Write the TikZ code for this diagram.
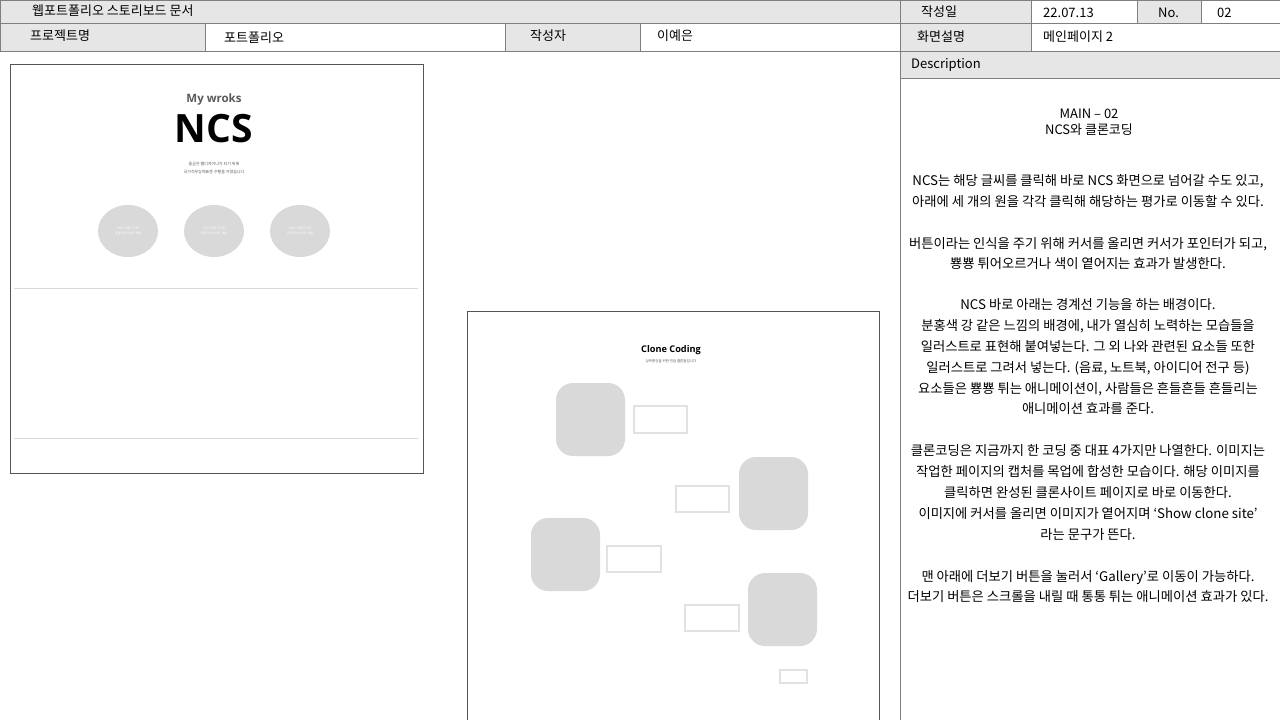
\documentclass[tikz,border=0pt]{standalone}
\usepackage{fontspec}
\setmainfont{Noto Sans CJK KR}
\newfontfamily\opensans{Open Sans}
\usetikzlibrary{shapes.geometric}

\definecolor{headgray}{HTML}{E6E6E6}
\definecolor{linegray}{HTML}{7F7F7F}
\definecolor{framegray}{HTML}{555555}
\definecolor{blobgray}{HTML}{D9D9D9}
\definecolor{boxgray}{HTML}{E2E2E2}
\definecolor{subgray}{HTML}{5A5A5A}

\begin{document}
\begin{tikzpicture}[x=1pt,y=-1pt,
	headcell/.style={draw=linegray, fill=headgray, line width=0.8pt},
	whitecell/.style={draw=linegray, fill=white, line width=0.8pt},
	headtext/.style={anchor=west, inner sep=0pt, font=\fontsize{13}{15}\selectfont},
	desctext/.style={align=center, inner sep=0pt, font=\fontsize{13.3}{20.8}\selectfont},
	frame/.style={draw=framegray, line width=0.8pt},
	divider/.style={draw=blobgray, line width=1pt},
	ncscircle/.style={ellipse, fill=blobgray, minimum width=60pt, minimum height=52pt, inner sep=0pt,
		text=white, align=center, font=\fontsize{3}{4.5}\selectfont},
	cloneblob/.style={rectangle, rounded corners=17pt, fill=blobgray, minimum width=69pt, minimum height=73pt},
	clonebtn/.style={rectangle, draw=boxgray, line width=1.2pt, fill=white, inner sep=0pt},
	tinytext/.style={inner sep=0pt, align=center, text=subgray}]

	\useasboundingbox (0,0) rectangle (1280,720);
	\fill[white] (0,0) rectangle (1280,720);

	% header, left part
	\draw[headcell] (0,0) rectangle (900,23);
	\draw[headcell] (0,23) rectangle (205,51);
	\draw[whitecell] (205,23) rectangle (505,51);
	\draw[headcell] (505,23) rectangle (640,51);
	\draw[whitecell] (640,23) rectangle (900,51);

	\node[headtext] (doctitle) at (32,10.5) {웹포트폴리오 스토리보드 문서};
	\node[headtext] (projlabel) at (30,36) {프로젝트명};
	\node[headtext] (projname) at (224,38) {포트폴리오};
	\node[headtext] (authlabel) at (530,36) {작성자};
	\node[headtext] (authname) at (657,36) {이예은};

	% header, right part
	\draw[headcell] (900,0) rectangle (1031,23);
	\draw[whitecell] (1031,0) rectangle (1137,23);
	\draw[headcell] (1137,0) rectangle (1201,23);
	\draw[whitecell] (1201,0) rectangle (1280,23);
	\draw[headcell] (900,23) rectangle (1031,51);
	\draw[whitecell] (1031,23) rectangle (1280,51);
	\draw[headcell] (900,51) rectangle (1280,78);
	\draw[whitecell] (900,78) rectangle (1280,721);

	\node[headtext] (datelabel) at (921,12) {작성일};
	\node[headtext] (datevalue) at (1043,12.5) {22.07.13};
	\node[headtext] (nolabel) at (1158,12.5) {No.};
	\node[headtext] (novalue) at (1217,12.5) {02};
	\node[headtext] (screenlabel) at (917,37) {화면설명};
	\node[headtext] (screenname) at (1043,37) {메인페이지 2};
	\node[headtext] (desclabel) at (911,64.5) {Description};

	% description
	\node[desctext, font=\fontsize{13}{16}\selectfont] (desctitle) at (1089,122.5) {MAIN – 02\\NCS와 클론코딩};
	\node[desctext] (descA) at (1088,191) {NCS는 해당 글씨를 클릭해 바로 NCS 화면으로 넘어갈 수도 있고,\\아래에 세 개의 원을 각각 클릭해 해당하는 평가로 이동할 수 있다.};
	\node[desctext] (descB) at (1088,253.5) {버튼이라는 인식을 주기 위해 커서를 올리면 커서가 포인터가 되고,\\뿅뿅 튀어오르거나 색이 옅어지는 효과가 발생한다.};
	\node[desctext] (descC) at (1088,357) {NCS 바로 아래는 경계선 기능을 하는 배경이다.\\분홍색 강 같은 느낌의 배경에, 내가 열심히 노력하는 모습들을\\일러스트로 표현해 붙여넣는다. 그 외 나와 관련된 요소들 또한\\일러스트로 그려서 넣는다. (음료, 노트북, 아이디어 전구 등)\\요소들은 뿅뿅 튀는 애니메이션이, 사람들은 흔들흔들 흔들리는\\애니메이션 효과를 준다.};
	\node[desctext] (descD) at (1088,492.5) {클론코딩은 지금까지 한 코딩 중 대표 4가지만 나열한다. 이미지는\\작업한 페이지의 캡처를 목업에 합성한 모습이다. 해당 이미지를\\클릭하면 완성된 클론사이트 페이지로 바로 이동한다.\\이미지에 커서를 올리면 이미지가 옅어지며 ‘Show clone site’\\라는 문구가 뜬다.};
	\node[desctext] (descE) at (1088,586.5) {맨 아래에 더보기 버튼을 눌러서 ‘Gallery’로 이동이 가능하다.\\더보기 버튼은 스크롤을 내릴 때 통통 튀는 애니메이션 효과가 있다.};

	% mockup: NCS
	\draw[frame] (10,64) rectangle (423,473);
	\node[inner sep=0pt, text=subgray, font=\opensans\bfseries\fontsize{11.5}{13}\selectfont] (myworks) at (214,100) {My wroks};
	\node[inner sep=0pt, font=\opensans\bfseries\fontsize{39}{40}\selectfont] (ncs) at (214,129) {NCS};
	\node[tinytext, font=\fontsize{4}{8}\selectfont] (ncssub) at (214,168) {올곧은 웹디자이너가 되기 위해\\국가직무능력표준 수행을 거쳤습니다};
	\node[ncscircle] (evalA) at (128,231) {서비스 경험 디자인\\관점으로 사이트 개발};
	\node[ncscircle] (evalB) at (214,231) {서비스 경험 디자인\\관점으로 사이트 개발};
	\node[ncscircle] (evalC) at (300,231) {서비스 경험 디자인\\관점으로 사이트 개발};
	\draw[divider] (14,288) -- (418,288);
	\draw[divider] (14,438) -- (418,438);

	% mockup: clone coding
	\draw[frame] (467,311) -- (467,721);
	\draw[frame] (467,311) -- (879,311) -- (879,721);
	\node[inner sep=0pt, font=\opensans\bfseries\fontsize{9.2}{11}\selectfont] (clonetitle) at (671,350) {Clone Coding};
	\node[tinytext, font=\fontsize{3.5}{4}\selectfont] (clonesub) at (671,361.5) {실력향상을 위한 연습 클론들입니다};

	\node[cloneblob] (siteA) at (590.5,419.5) {};
	\node[cloneblob] (siteB) at (773.5,493.5) {};
	\node[cloneblob] (siteC) at (565.5,554.5) {};
	\node[cloneblob] (siteD) at (782.5,609.5) {};

	\node[clonebtn, minimum width=53pt, minimum height=27pt] (btnA) at (660.5,419.5) {};
	\node[clonebtn, minimum width=53pt, minimum height=26pt] (btnB) at (702.5,499) {};
	\node[clonebtn, minimum width=54pt, minimum height=26pt] (btnC) at (634,559) {};
	\node[clonebtn, minimum width=54pt, minimum height=26pt] (btnD) at (712,618) {};
	\node[clonebtn, minimum width=27pt, minimum height=13pt] (morebtn) at (793.5,676.5) {};

\end{tikzpicture}
\end{document}
